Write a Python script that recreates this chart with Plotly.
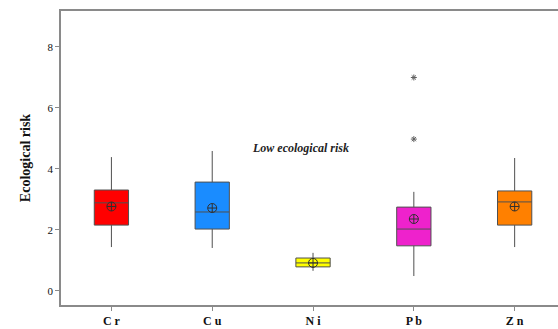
import plotly.graph_objects as go

categories = ["C r", "C u", "N i", "P b", "Z n"]
q1 = [2.16, 2.03, 0.79, 1.48, 2.16]
median = [2.89, 2.59, 0.92, 2.03, 2.92]
q3 = [3.31, 3.57, 1.08, 2.75, 3.28]
lowerfence = [1.44, 1.41, 0.66, 0.49, 1.44]
upperfence = [4.39, 4.59, 1.25, 3.25, 4.36]
means = [2.77, 2.72, 0.92, 2.36, 2.77]
colors = ["#ff0000", "#1a8cff", "#ffff00", "#ee22cc", "#ff8000"]
outlier_cats = ["P b", "P b"]
outlier_vals = [7.0, 4.98]
annotation_text = "Low ecological risk"

fig = go.Figure()
for i, c in enumerate(categories):
    fig.add_trace(go.Box(
        x=[c], q1=[q1[i]], median=[median[i]], q3=[q3[i]],
        lowerfence=[lowerfence[i]], upperfence=[upperfence[i]],
        fillcolor=colors[i], line=dict(color="#505050", width=1),
        width=0.34, whiskerwidth=0, boxpoints=False, showlegend=False, hoverinfo="skip"))

fig.add_trace(go.Scatter(
    x=categories, y=means, mode="markers", showlegend=False,
    marker=dict(symbol="circle-cross-open", size=9, color="#303030",
                line=dict(width=1, color="#303030"))))
fig.add_trace(go.Scatter(
    x=outlier_cats, y=outlier_vals, mode="markers", showlegend=False,
    marker=dict(symbol="asterisk-open", size=5, color="#606060",
                line=dict(width=1, color="#606060"))))

fig.add_annotation(x=1.88, y=4.69, text="<b><i>" + annotation_text + "</i></b>",
                   showarrow=False, font=dict(family="Liberation Serif", size=12, color="#222"))

fig.update_layout(
    width=558, height=329,
    margin=dict(l=61, r=0, t=11, b=24),
    plot_bgcolor="white", paper_bgcolor="white",
    font=dict(family="Liberation Serif", color="#222"),
    xaxis=dict(range=[-0.5, 4.43], showline=True, linecolor="#8a8a8a", linewidth=1.5,
               mirror=True, ticks="outside", ticklen=4, tickcolor="#8a8a8a",
               showgrid=False, zeroline=False, type="category",
               tickfont=dict(family="Liberation Serif", size=12, color="#111"),
               tickprefix="<b>", ticksuffix="</b>"),
    yaxis=dict(range=[-0.46, 9.18], tickvals=[0, 2, 4, 6, 8], showline=True,
               linecolor="#8a8a8a", linewidth=1.5, ticks="outside", ticklen=4,
               tickcolor="#8a8a8a", showgrid=False, zeroline=False,
               tickfont=dict(family="Liberation Serif", size=11, color="#111"),
               tickprefix="<b>", ticksuffix="</b>",
               title=dict(text="<b>Ecological risk</b>", standoff=14,
                          font=dict(family="Liberation Serif", size=14, color="#111"))),
)

fig.write_html("out.html")
